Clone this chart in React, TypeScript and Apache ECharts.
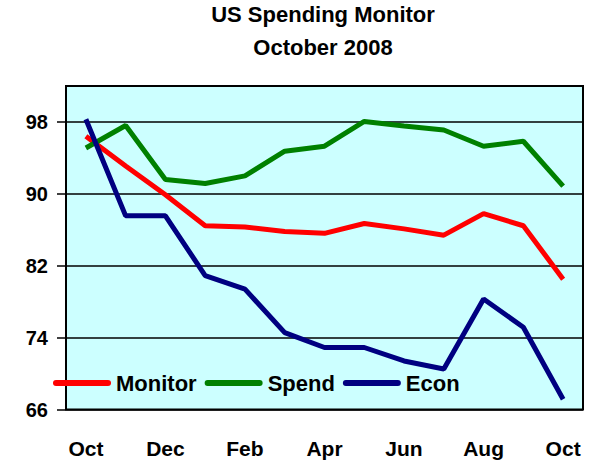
import React, { useEffect, useRef } from "react";
import * as echarts from "echarts";

const months = ["Oct", "Nov", "Dec", "Jan", "Feb", "Mar", "Apr", "May", "Jun", "Jul", "Aug", "Sep", "Oct"];
const monitor = [96.4, 93.1, 89.9, 86.45, 86.3, 85.8, 85.6, 86.7, 86.1, 85.4, 87.8, 86.45, 80.5];
const spend = [95.1, 97.6, 91.6, 91.15, 92.0, 94.75, 95.3, 98.05, 97.55, 97.1, 95.3, 95.85, 90.85];
const econ = [98.3, 87.55, 87.55, 80.9, 79.4, 74.55, 72.9, 72.9, 71.4, 70.5, 78.3, 75.15, 67.15];
const yTicks = [66, 74, 82, 90, 98];
const titleLines = ["US Spending Monitor", "October 2008"];

const FONT = "Arial, 'Liberation Sans', sans-serif";

export default function App() {
  const ref = useRef<HTMLDivElement>(null);
  useEffect(() => {
    if (!ref.current) return;
    const chart = echarts.init(ref.current, null, { renderer: "svg" });
    const stadium = "path://M3,0L55,0A3,3,0,0,1,55,6L3,6A3,3,0,0,1,3,0Z";
    chart.setOption({
      animation: false,
      backgroundColor: "#ffffff",
      graphic: [
        {
          type: "text",
          x: 323,
          y: 14,
          style: { text: titleLines[0], font: `bold 22px ${FONT}`, fill: "#000", textAlign: "center", textVerticalAlign: "middle" },
        },
        {
          type: "text",
          x: 323,
          y: 47,
          style: { text: titleLines[1], font: `bold 22px ${FONT}`, fill: "#000", textAlign: "center", textVerticalAlign: "middle" },
        },
      ],
      grid: {
        left: 66,
        right: 11,
        top: 86,
        bottom: 53.5,
        show: true,
        backgroundColor: "#CCFFFF",
        borderColor: "#000",
        borderWidth: 2,
        containLabel: false,
      },
      legend: {
        left: 53,
        top: 372,
        padding: 0,
        itemWidth: 58,
        itemHeight: 6,
        itemGap: 8,
        icon: stadium,
        textStyle: { fontFamily: FONT, fontWeight: "bold", fontSize: 22, color: "#000" },
        data: ["Monitor", "Spend", "Econ"],
      },
      xAxis: {
        type: "category",
        data: months,
        boundaryGap: true,
        axisLine: { show: false },
        axisTick: { show: false },
        splitLine: { show: false },
        axisLabel: {
          interval: 1,
          margin: 28,
          fontFamily: FONT,
          fontWeight: "bold",
          fontSize: 21,
          color: "#000",
        },
      },
      yAxis: {
        type: "value",
        min: 66,
        max: 102,
        interval: 8,
        axisLine: { show: false },
        axisTick: { show: true, length: 9, lineStyle: { color: "#000", width: 1.5 }, customValues: yTicks },
        axisLabel: {
          customValues: yTicks,
          margin: 18,
          fontFamily: FONT,
          fontWeight: "bold",
          fontSize: 20,
          color: "#000",
        },
        splitLine: { show: true, lineStyle: { color: "#000", width: 1.5 } },
      },
      series: [
        { name: "Monitor", type: "line", data: monitor, symbol: "none", color: "#FF0000", lineStyle: { width: 5, color: "#FF0000" } },
        { name: "Spend", type: "line", data: spend, symbol: "none", color: "#008000", lineStyle: { width: 5, color: "#008000" } },
        { name: "Econ", type: "line", data: econ, symbol: "none", color: "#000080", lineStyle: { width: 5, color: "#000080" } },
      ],
    });
    return () => chart.dispose();
  }, []);
  return <div ref={ref} style={{ position: "fixed", left: 0, top: 0, width: 594, height: 463 }} />;
}
